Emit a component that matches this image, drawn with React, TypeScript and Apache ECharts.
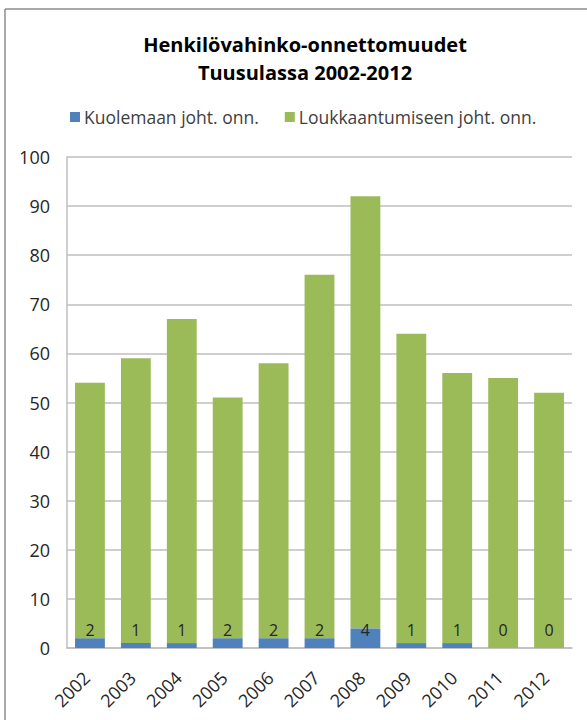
import React, { useEffect, useRef } from "react";
import * as echarts from "echarts";

const years = ["2002", "2003", "2004", "2005", "2006", "2007", "2008", "2009", "2010", "2011", "2012"];
const deaths = [2, 1, 1, 2, 2, 2, 4, 1, 1, 0, 0];
const injuries = [52, 58, 66, 49, 56, 74, 88, 63, 55, 55, 52];
const yTicks = { min: 0, max: 100, interval: 10 };
const titleLines = ["Henkilövahinko-onnettomuudet", "Tuusulassa 2002-2012"];
const seriesNames = ["Kuolemaan joht. onn.", "Loukkaantumiseen joht. onn."];

const FONT = "'Open Sans', 'Noto Sans', sans-serif";

export default function App() {
  const ref = useRef<HTMLDivElement>(null);
  useEffect(() => {
    if (!ref.current) return;
    const chart = echarts.init(ref.current, null, { renderer: "svg" });
    chart.setOption({
      animation: false,
      backgroundColor: "#ffffff",
      textStyle: { fontFamily: FONT },
      title: {
        text: titleLines.join("\n"),
        left: 300,
        top: 25,
        textAlign: "center",
        textStyle: {
          fontFamily: FONT,
          fontWeight: "bold",
          fontSize: 20,
          lineHeight: 28,
          color: "#000000",
        },
      },
      legend: {
        top: 103,
        left: 65,
        itemWidth: 10,
        itemHeight: 10,
        itemGap: 26,
        icon: "rect",
        textStyle: { fontFamily: FONT, fontSize: 17.5, color: "#404040", padding: [0, 0, 0, -1] },
        data: seriesNames,
      },
      graphic: [
        { type: "line", shape: { x1: 5, y1: 9, x2: 587, y2: 9 }, style: { stroke: "#8c8c8c", lineWidth: 1.5 } },
        { type: "line", shape: { x1: 5, y1: 9, x2: 5, y2: 720 }, style: { stroke: "#8c8c8c", lineWidth: 1.5 } },
      ],
      grid: {
        left: 67,
        right: 15,
        top: 157,
        bottom: 72,
        containLabel: false,
        outerBoundsMode: "none",
      },
      xAxis: {
        type: "category",
        data: years,
        axisLine: { lineStyle: { color: "#bfbfbf", width: 1.5 } },
        axisTick: { show: false },
        axisLabel: {
          rotate: 45,
          fontFamily: FONT,
          fontSize: 18,
          color: "#262626",
          margin: 23,
          padding: [0, 5, 0, 0],
        },
      },
      yAxis: {
        type: "value",
        min: yTicks.min,
        max: yTicks.max,
        interval: yTicks.interval,
        axisLine: { show: true, lineStyle: { color: "#bfbfbf", width: 1.5 } },
        axisTick: { show: false },
        splitLine: { lineStyle: { color: "#bfbfbf", width: 1.5 } },
        axisLabel: {
          fontFamily: FONT,
          fontSize: 18,
          color: "#262626",
          margin: 17,
        },
      },
      series: [
        {
          name: seriesNames[0],
          type: "bar",
          stack: "total",
          data: deaths,
          barCategoryGap: "35%",
          itemStyle: { color: "#4f81bd" },
          label: {
            show: true,
            position: "insideBottom",
            distance: 10,
            fontFamily: FONT,
            fontSize: 16,
            color: "#262626",
          },
        },
        {
          name: seriesNames[1],
          type: "bar",
          stack: "total",
          data: injuries,
          barCategoryGap: "35%",
          itemStyle: { color: "#9bbb59" },
        },
      ],
    });
    return () => chart.dispose();
  }, []);
  return (
    <div
      ref={ref}
      style={{ position: "fixed", left: 0, top: 0, width: 587, height: 720 }}
    />
  );
}
